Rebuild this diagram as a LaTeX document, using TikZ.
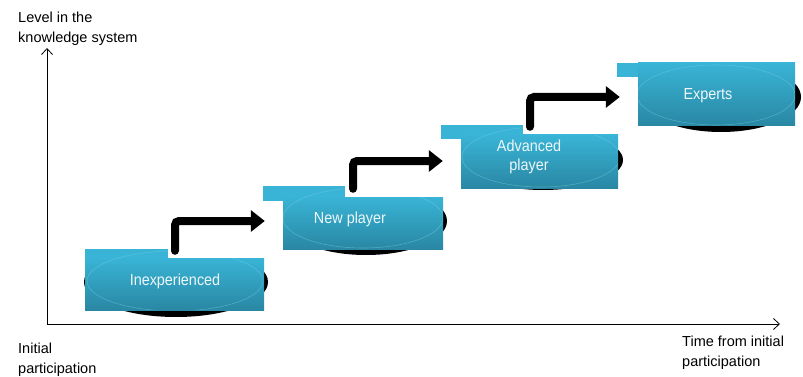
\documentclass[tikz,border=0pt]{standalone}
\usepackage{fontspec}
\setmainfont{Liberation Sans}
\newfontfamily\stepfont[FakeStretch=0.9]{Liberation Sans}
\usetikzlibrary{arrows.meta,calc}

\definecolor{stepTop}{HTML}{39B4D6}
\definecolor{stepBot}{HTML}{2987A3}
\definecolor{stepTab}{HTML}{3AB4D6}
\definecolor{stepRim}{HTML}{7ACFE6}
\definecolor{stepText}{HTML}{EEF8FB}

\tikzset{
  shadowblob/.style={fill=black},
  steptab/.style={fill=stepTab},
  stepbody/.style={rectangle, inner sep=0pt, top color=stepTop, bottom color=stepBot, draw=none},
  steprim/.style={draw=stepRim, line width=0.6pt, opacity=0.45},
  steplabel/.style={text=stepText, font=\stepfont\fontsize{16}{19}\selectfont, inner sep=0pt, align=center},
  axislabel/.style={font=\fontsize{14.5}{19.5}\selectfont, inner sep=0pt, align=left, anchor=north west},
  axisline/.style={line width=0.8pt, -{Straight Barb[length=6pt,width=11pt]}},
  levelup/.style={line width=8pt, line cap=round, rounded corners=4pt,
    -{Triangle[length=14pt,width=21pt]}},
}

\begin{document}
\begin{tikzpicture}[x=1pt,y=-1pt]
\useasboundingbox (0,0) rectangle (803,377);

% axes
\coordinate (origin) at (47,324);
\coordinate (ytip) at (47,48);
\coordinate (xtip) at (780,324);
\draw[axisline] (origin) -- (ytip);
\draw[axisline] (origin) -- (xtip);

\node[axislabel] (ylab) at (18,12) {Level in the\\knowledge system};
\node[axislabel] (olab) at (18,343) {Initial\\participation};
\node[axislabel] (xlab) at (682,336) {Time from initial\\participation};

% step 1
\begin{scope}
  \clip (60,261) rectangle (300,330);
  \fill[shadowblob] (176,282) ellipse [x radius=92, y radius=35];
\end{scope}
\fill[steptab] (85,249) rectangle (168,260);
\node[stepbody, minimum width=179pt, minimum height=52pt] (s1) at (174.5,284) {};
\begin{scope}
  \clip (85,249) rectangle (168,260) (85,258) rectangle (264,310);
  \draw[steprim] (175,281) ellipse [x radius=88, y radius=30];
\end{scope}
\node[steplabel, anchor=base] (t1) at (175,285) {Inexperienced};

% step 2
\begin{scope}
  \clip (260,200) rectangle (470,270);
  \fill[shadowblob] (366,221) ellipse [x radius=81, y radius=34];
\end{scope}
\fill[steptab] (263,186) rectangle (345,201);
\node[stepbody, minimum width=160pt, minimum height=52pt] (s2) at (363,223) {};
\begin{scope}
  \clip (263,186) rectangle (345,201) (283,197) rectangle (443,249);
  \draw[steprim] (363,218) ellipse [x radius=80, y radius=30];
\end{scope}
\node[steplabel, anchor=base] (t2) at (350,223) {New player};

% step 3
\begin{scope}
  \clip (440,138) rectangle (640,200);
  \fill[shadowblob] (543,160) ellipse [x radius=80, y radius=30];
\end{scope}
\fill[steptab] (441,125) rectangle (523,139);
\node[stepbody, minimum width=157pt, minimum height=53pt] (s3) at (539.5,161.5) {};
\begin{scope}
  \clip (441,125) rectangle (523,139) (461,135) rectangle (618,188);
  \draw[steprim] (541,157) ellipse [x radius=79, y radius=30];
\end{scope}
\node[steplabel, anchor=north] (t3) at (529,140) {Advanced\\player};

% step 4
\begin{scope}
  \clip (620,66) rectangle (803,140);
  \fill[shadowblob] (721,97) ellipse [x radius=80, y radius=35];
\end{scope}
\fill[steptab] (617,63) rectangle (700,77);
\node[stepbody, minimum width=157pt, minimum height=63pt] (s4) at (716.5,94.5) {};
\begin{scope}
  \clip (617,63) rectangle (700,77) (638,63) rectangle (795,126);
  \draw[steprim] (716,95) ellipse [x radius=79, y radius=30];
\end{scope}
\node[steplabel, anchor=base] (t4) at (708,100) {Experts};

% elbow arrows between steps
\draw[levelup] ($(s1.north)+(0.5,-7)$) |- ($(s2.west)+(-18,-2)$);
\draw[levelup] ($(s2.north)+(-10,-8)$) |- ($(s3.west)+(-18,-0.5)$);
\draw[levelup] ($(s3.north)+(-9.5,-8)$) |- ($(s4.west)+(-18,2.5)$);
\end{tikzpicture}
\end{document}
